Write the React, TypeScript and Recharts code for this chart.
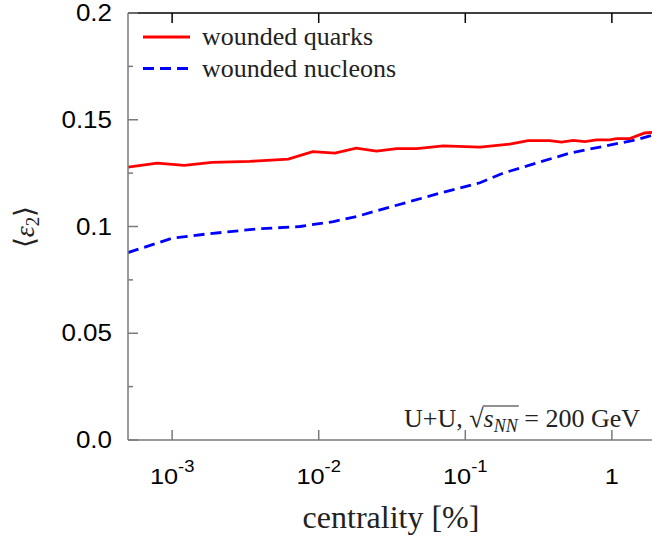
import React, { useLayoutEffect, useRef, useState } from "react";
import { LineChart, Line, XAxis, YAxis } from "recharts";

// wounded quarks (red, solid)
const quarkCentrality = [0.0005, 0.00079, 0.00121, 0.00187, 0.0034, 0.0062, 0.0091, 0.0129, 0.018, 0.0248, 0.034, 0.0466, 0.0707, 0.126, 0.201, 0.268, 0.377, 0.453, 0.544, 0.654, 0.785, 0.968, 1.074, 1.324, 1.675, 2.0];
const quarkEps2 = [0.1278, 0.1297, 0.1286, 0.13, 0.1305, 0.1316, 0.1351, 0.1344, 0.1367, 0.1353, 0.1365, 0.1365, 0.1378, 0.1372, 0.1386, 0.1402, 0.1402, 0.1395, 0.1403, 0.1398, 0.1406, 0.1406, 0.1412, 0.1412, 0.1438, 0.1442];

// wounded nucleons (blue, dashed)
const nucleonCentrality = [0.0005, 0.001, 0.00177, 0.00387, 0.00746, 0.0126, 0.0182, 0.0262, 0.0419, 0.0671, 0.126, 0.181, 0.306, 0.516, 0.871, 1.47, 2.0];
const nucleonEps2 = [0.0878, 0.0945, 0.0966, 0.0989, 0.1, 0.1023, 0.1047, 0.1078, 0.1117, 0.1156, 0.1205, 0.125, 0.1297, 0.1344, 0.1375, 0.1406, 0.1432];

const xTicks = [0.001, 0.01, 0.1, 1];
const yTicks = [0, 0.025, 0.05, 0.075, 0.1, 0.125, 0.15, 0.175, 0.2];

const quarkData = quarkCentrality.map((c, i) => ({ c, v: quarkEps2[i] }));
const nucleonData = nucleonCentrality.map((c, i) => ({ c, v: nucleonEps2[i] }));

const GRAY = "#7a7a7a";
const SANS = "'Liberation Sans', Arial, sans-serif";
const SERIF = "'Liberation Serif', 'Times New Roman', serif";

const isMajor = (v: number) => Math.abs(v / 0.05 - Math.round(v / 0.05)) < 1e-6;
const fmtY = (v: number) => (v === 0 ? "0.0" : String(+v.toFixed(2)));

const LeftTick = (props: any) => {
  const { x, y, payload } = props;
  const major = isMajor(payload.value);
  return (
    <g>
      <line x1={x} x2={x + (major ? 10 : 5)} y1={y} y2={y} stroke={GRAY} strokeWidth={1.5} />
      {major && (
        <text transform={`translate(${x - 16},${y + 8}) scale(1.13,1)`} textAnchor="end" fontSize={23} fontFamily={SANS} fill="#000">
          {fmtY(payload.value)}
        </text>
      )}
    </g>
  );
};

const RightTick = (props: any) => {
  const { x, y, payload } = props;
  const major = isMajor(payload.value);
  return <line x1={x - (major ? 10 : 5)} x2={x} y1={y} y2={y} stroke="#000" strokeWidth={1.5} />;
};

const BottomTick = (props: any) => {
  const { x, y, payload } = props;
  const exp = Math.round(Math.log10(payload.value));
  return (
    <g>
      <line x1={x} x2={x} y1={y - 10} y2={y} stroke={GRAY} strokeWidth={1.5} />
      <text transform={`translate(${x},${y + 44}) scale(1.15,1)`} textAnchor="middle" fontSize={22} fontFamily={SANS} fill="#000">
        {exp === 0 ? "1" : "10"}
        {exp !== 0 && (
          <tspan dy={-12} fontSize={16}>
            {exp}
          </tspan>
        )}
      </text>
    </g>
  );
};

const TopTick = (props: any) => {
  const { x, y } = props;
  return <line x1={x} x2={x} y1={y} y2={y + 10} stroke="#000" strokeWidth={1.5} />;
};

const Overlay = () => {
  const noteRef = useRef<SVGTextElement>(null);
  const [bar, setBar] = useState<{ x1: number; x2: number; y: number } | null>(null);

  useLayoutEffect(() => {
    const t = noteRef.current;
    if (!t) return;
    try {
      // chars: "U+U, " (0-4), "√" 5, "s" 6, "N" 7, "N" 8
      const root = t.getExtentOfChar(5);
      const last = t.getExtentOfChar(8);
      setBar({ x1: root.x + root.width - 1, x2: last.x + last.width + 1, y: root.y + 2 });
    } catch (e) {
      setBar(null);
    }
  }, []);

  return (
    <svg width={660} height={540} style={{ position: "absolute", left: 0, top: 0, pointerEvents: "none" }}>
      {/* legend */}
      <line x1={143} x2={190} y1={37} y2={37} stroke="#ff0000" strokeWidth={2.8} />
      <text x={202} y={45} fontSize={26} fontFamily={SERIF} fill="#222">wounded quarks</text>
      <line x1={143} x2={190} y1={68.5} y2={68.5} stroke="#0000ff" strokeWidth={2.8} strokeDasharray="11 6" />
      <text x={202} y={77} fontSize={26} fontFamily={SERIF} fill="#222">wounded nucleons</text>

      {/* annotation */}
      <text ref={noteRef} x={640} y={427} textAnchor="end" fontSize={26} fontFamily={SERIF} fill="#222">
        U+U, √<tspan fontStyle="italic">s</tspan>
        <tspan fontStyle="italic" fontSize={18} dy={5}>NN</tspan>
        <tspan dy={-5}> = 200 GeV</tspan>
      </text>
      {bar && <line x1={bar.x1} x2={bar.x2} y1={bar.y} y2={bar.y} stroke="#222" strokeWidth={1.2} />}

      {/* axis titles */}
      <text x={391} y={528} textAnchor="middle" fontSize={32} fontFamily={SERIF} fill="#222">centrality [%]</text>
      <text transform="translate(34,227) rotate(-90)" textAnchor="middle" fontSize={28} fontFamily={SERIF} fill="#222">
        ⟨<tspan fontStyle="italic">ε</tspan>
        <tspan fontSize={19} dy={5}>2</tspan>
        <tspan dy={-5}>⟩</tspan>
      </text>
    </svg>
  );
};

export default function App() {
  return (
    <div style={{ position: "absolute", left: 0, top: 0, width: 652, height: 540, overflow: "hidden", background: "#fff" }}>
      <div style={{ position: "relative", width: 660, height: 540 }}>
        <LineChart width={660} height={540} margin={{ top: 12, right: 3, bottom: 99, left: 127 }}>
          <XAxis
            xAxisId="bottom"
            dataKey="c"
            type="number"
            scale="log"
            domain={[0.0005, 2]}
            allowDataOverflow
            ticks={xTicks}
            height={1}
            tickSize={0}
            tickMargin={0}
            tickLine={false}
            tick={BottomTick}
            axisLine={{ stroke: GRAY, strokeWidth: 1.5 }}
          />
          <XAxis
            xAxisId="top"
            orientation="top"
            dataKey="c"
            type="number"
            scale="log"
            domain={[0.0005, 2]}
            allowDataOverflow
            ticks={xTicks}
            height={1}
            tickSize={0}
            tickMargin={0}
            tickLine={false}
            tick={TopTick}
            axisLine={{ stroke: "#000", strokeWidth: 1.5 }}
          />
          <YAxis
            yAxisId="left"
            type="number"
            domain={[0, 0.2]}
            ticks={yTicks}
            width={1}
            tickSize={0}
            tickMargin={0}
            tickLine={false}
            tick={LeftTick}
            axisLine={{ stroke: GRAY, strokeWidth: 1.5 }}
          />
          <YAxis
            yAxisId="right"
            orientation="right"
            type="number"
            domain={[0, 0.2]}
            ticks={yTicks}
            width={1}
            tickSize={0}
            tickMargin={0}
            tickLine={false}
            tick={RightTick}
            axisLine={{ stroke: "#000", strokeWidth: 1.5 }}
          />
          <Line
            data={nucleonData}
            xAxisId="bottom"
            yAxisId="left"
            dataKey="v"
            type="linear"
            stroke="#0000ff"
            strokeWidth={2.8}
            strokeDasharray="11 6"
            dot={false}
            isAnimationActive={false}
          />
          <Line
            data={quarkData}
            xAxisId="bottom"
            yAxisId="left"
            dataKey="v"
            type="linear"
            stroke="#ff0000"
            strokeWidth={2.8}
            dot={false}
            isAnimationActive={false}
          />
        </LineChart>
        <Overlay />
      </div>
    </div>
  );
}
